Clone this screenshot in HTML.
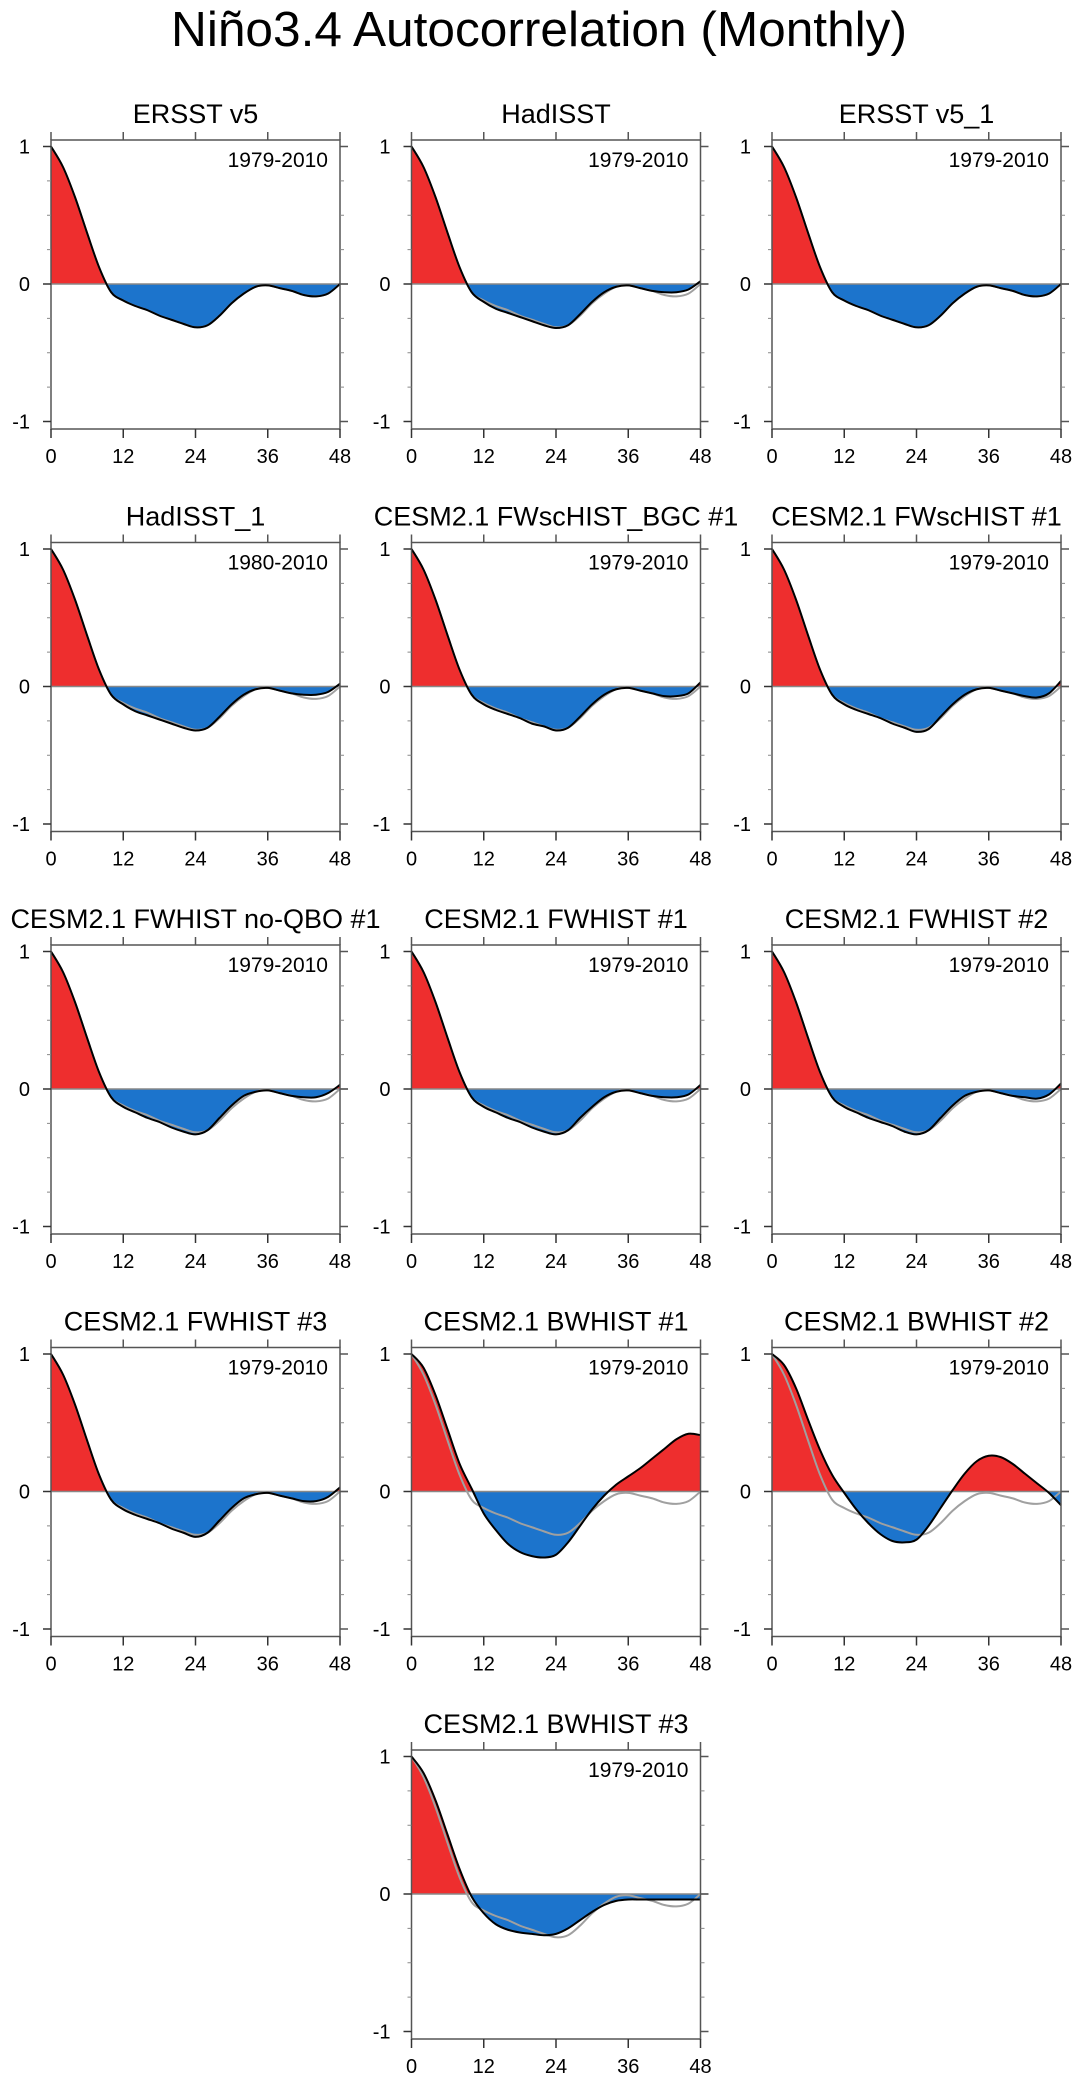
<!DOCTYPE html>
<html><head><meta charset="utf-8">
<style>
html,body{margin:0;padding:0;background:#fff;}
svg{display:block;font-family:"Liberation Sans",sans-serif;}
</style></head>
<body>
<svg id="fig" width="1078" height="2083" viewBox="0 0 1078 2083" xmlns="http://www.w3.org/2000/svg">
<text x="539" y="46" font-size="49" text-anchor="middle" textLength="736" lengthAdjust="spacingAndGlyphs">Niño3.4 Autocorrelation (Monthly)</text>
</svg>
<script>
const lags = [0,2,4,6,8,10,12,14,16,18,20,22,24,26,28,30,32,34,36,38,40,42,44,46,48];
const xTicks = [0,12,24,36,48];
const yTicks = [-1,0,1];
const yMinor = [-0.75,-0.5,-0.25,0.25,0.5,0.75];
const ersst = [1,0.85,0.63,0.37,0.12,-0.06,-0.12,-0.16,-0.19,-0.23,-0.26,-0.29,-0.315,-0.3,-0.23,-0.14,-0.07,-0.02,-0.01,-0.03,-0.05,-0.08,-0.09,-0.07,0.0];
const hadisst = [1,0.85,0.63,0.37,0.12,-0.06,-0.13,-0.18,-0.21,-0.24,-0.27,-0.30,-0.32,-0.3,-0.22,-0.13,-0.06,-0.02,-0.01,-0.03,-0.05,-0.06,-0.06,-0.04,0.02];
const fwscBgc = [1,0.85,0.63,0.37,0.12,-0.06,-0.13,-0.17,-0.2,-0.23,-0.27,-0.29,-0.32,-0.3,-0.22,-0.13,-0.06,-0.02,-0.01,-0.03,-0.05,-0.07,-0.07,-0.05,0.03];
const fwsc1 = [1,0.85,0.63,0.37,0.12,-0.06,-0.13,-0.17,-0.2,-0.23,-0.27,-0.30,-0.33,-0.31,-0.22,-0.13,-0.06,-0.02,-0.01,-0.03,-0.05,-0.07,-0.08,-0.05,0.04];
const fwNoQbo = [1,0.85,0.63,0.37,0.12,-0.06,-0.13,-0.17,-0.21,-0.24,-0.28,-0.31,-0.33,-0.3,-0.21,-0.12,-0.05,-0.02,-0.01,-0.03,-0.05,-0.06,-0.06,-0.03,0.03];
const fw1 = [1,0.85,0.63,0.37,0.12,-0.06,-0.13,-0.17,-0.21,-0.24,-0.28,-0.31,-0.33,-0.3,-0.21,-0.13,-0.06,-0.02,-0.01,-0.03,-0.05,-0.06,-0.06,-0.04,0.03];
const fw2 = [1,0.85,0.63,0.37,0.12,-0.06,-0.13,-0.17,-0.21,-0.24,-0.27,-0.31,-0.33,-0.3,-0.21,-0.12,-0.05,-0.02,-0.01,-0.03,-0.05,-0.06,-0.07,-0.04,0.04];
const fw3 = [1,0.85,0.63,0.37,0.12,-0.06,-0.13,-0.17,-0.2,-0.23,-0.27,-0.30,-0.33,-0.3,-0.21,-0.12,-0.05,-0.02,-0.01,-0.03,-0.05,-0.07,-0.07,-0.04,0.03];
const bw1 = [1,0.9,0.7,0.45,0.2,0.02,-0.16,-0.28,-0.38,-0.44,-0.47,-0.48,-0.46,-0.37,-0.25,-0.13,-0.03,0.05,0.11,0.17,0.24,0.31,0.38,0.42,0.41];
const bw2 = [1,0.92,0.75,0.52,0.3,0.12,-0.01,-0.13,-0.23,-0.31,-0.36,-0.37,-0.35,-0.25,-0.12,0.01,0.13,0.22,0.26,0.25,0.2,0.13,0.06,-0.01,-0.1];
const bw3 = [1,0.88,0.68,0.43,0.18,-0.02,-0.14,-0.22,-0.26,-0.28,-0.29,-0.3,-0.29,-0.25,-0.19,-0.13,-0.08,-0.05,-0.04,-0.04,-0.04,-0.04,-0.04,-0.04,-0.04];
const titles = ["ERSST v5","HadISST","ERSST v5_1","HadISST_1","CESM2.1 FWscHIST_BGC #1","CESM2.1 FWscHIST #1","CESM2.1 FWHIST no-QBO #1","CESM2.1 FWHIST #1","CESM2.1 FWHIST #2","CESM2.1 FWHIST #3","CESM2.1 BWHIST #1","CESM2.1 BWHIST #2","CESM2.1 BWHIST #3"];
const periods = ["1979-2010","1979-2010","1979-2010","1980-2010","1979-2010","1979-2010","1979-2010","1979-2010","1979-2010","1979-2010","1979-2010","1979-2010","1979-2010"];
const series = [ersst,hadisst,ersst,hadisst,fwscBgc,fwsc1,fwNoQbo,fw1,fw2,fw3,bw1,bw2,bw3];

const NS="http://www.w3.org/2000/svg";
const svg=document.getElementById('fig');
const colX=[51,411.5,772], W=289, H=289;
function el(tag,attrs,parent){const e=document.createElementNS(NS,tag);for(const k in attrs)e.setAttribute(k,attrs[k]);(parent||svg).appendChild(e);return e;}
function pathFrom(pts){
  let d="M"+pts[0][0].toFixed(2)+","+pts[0][1].toFixed(2);
  for(let i=0;i<pts.length-1;i++){
    const p0=pts[Math.max(0,i-1)],p1=pts[i],p2=pts[i+1],p3=pts[Math.min(pts.length-1,i+2)];
    const c1x=p1[0]+(p2[0]-p0[0])/6,c1y=p1[1]+(p2[1]-p0[1])/6;
    const c2x=p2[0]-(p3[0]-p1[0])/6,c2y=p2[1]-(p3[1]-p1[1])/6;
    d+=" C"+c1x.toFixed(2)+","+c1y.toFixed(2)+" "+c2x.toFixed(2)+","+c2y.toFixed(2)+" "+p2[0].toFixed(2)+","+p2[1].toFixed(2);
  }
  return d;
}
series.forEach((vals,i)=>{
  const row=Math.floor(i/3);
  const col=(i===12)?1:i%3;
  const x0=colX[col];
  const zeroY=284+row*402.5;
  const top=zeroY-144;
  const sx=v=>x0+v/48*W;
  const sy=v=>zeroY-v*137.5;
  const g=el('g',{});
  
  
  const t=el('text',{x:x0+W/2,y:top-17,'font-size':27,'text-anchor':'middle'},g);
  t.textContent=titles[i];
  
  
  const defs=el('defs',{},g);
  const cpA=el('clipPath',{id:'ca'+i},defs);
  el('rect',{x:x0,y:top,width:W,height:zeroY-top},cpA);
  const cpB=el('clipPath',{id:'cb'+i},defs);
  el('rect',{x:x0,y:zeroY,width:W,height:top+H-zeroY},cpB);
  const pts=lags.map((l,k)=>[sx(l),sy(vals[k])]);
  const d=pathFrom(pts);
  const area=d+" L"+sx(48)+","+zeroY+" L"+sx(0)+","+zeroY+" Z";
  const pos=el('path',{d:area,fill:'#ee2e2e','clip-path':'url(#ca'+i+')'},g);
  
  
  const neg=el('path',{d:area,fill:'#1c74cc','clip-path':'url(#cb'+i+')'},g);
  
  
  const zl=el('line',{x1:x0,x2:x0+W+8,y1:zeroY,y2:zeroY,stroke:'#888','stroke-width':1.5},g);
  
  
  const ref=el('path',{d:pathFrom(lags.map((l,k)=>[sx(l),sy(ersst[k])])),fill:'none',stroke:'#a0a0a0','stroke-width':2},g);
  
  
  const ln=el('path',{d:d,fill:'none',stroke:'#000','stroke-width':2},g);
  
  
  const fr=el('rect',{x:x0,y:top,width:W,height:H,fill:'none',stroke:'#555','stroke-width':1.5},g);
  
  
  xTicks.forEach(v=>{
    el('line',{x1:sx(v),x2:sx(v),y1:top+H,y2:top+H+9,stroke:'#333','stroke-width':1.5},g);
    el('line',{x1:sx(v),x2:sx(v),y1:top,y2:top-8,stroke:'#555','stroke-width':1.5},g);
    const lb=el('text',{x:sx(v),y:top+H+34,'font-size':20,'text-anchor':'middle'},g);
    lb.textContent=v;
    
    
  });
  yTicks.forEach(v=>{
    el('line',{x1:x0-8,x2:x0,y1:sy(v),y2:sy(v),stroke:'#333','stroke-width':1.5},g);
    el('line',{x1:x0+W,x2:x0+W+8,y1:sy(v),y2:sy(v),stroke:'#555','stroke-width':1.5},g);
    const lb=el('text',{x:x0-21,y:sy(v)+7,'font-size':20,'text-anchor':'end'},g);
    lb.textContent=v;
    
    
  });
  yMinor.forEach(v=>{
    el('line',{x1:x0-4,x2:x0,y1:sy(v),y2:sy(v),stroke:'#888','stroke-width':1},g);
    el('line',{x1:x0+W,x2:x0+W+4,y1:sy(v),y2:sy(v),stroke:'#888','stroke-width':1},g);
  });
  const pl=el('text',{x:x0+W-12,y:top+27,'font-size':21,'text-anchor':'end'},g);
  pl.textContent=periods[i];
  
  
});
</script>
</body></html>
